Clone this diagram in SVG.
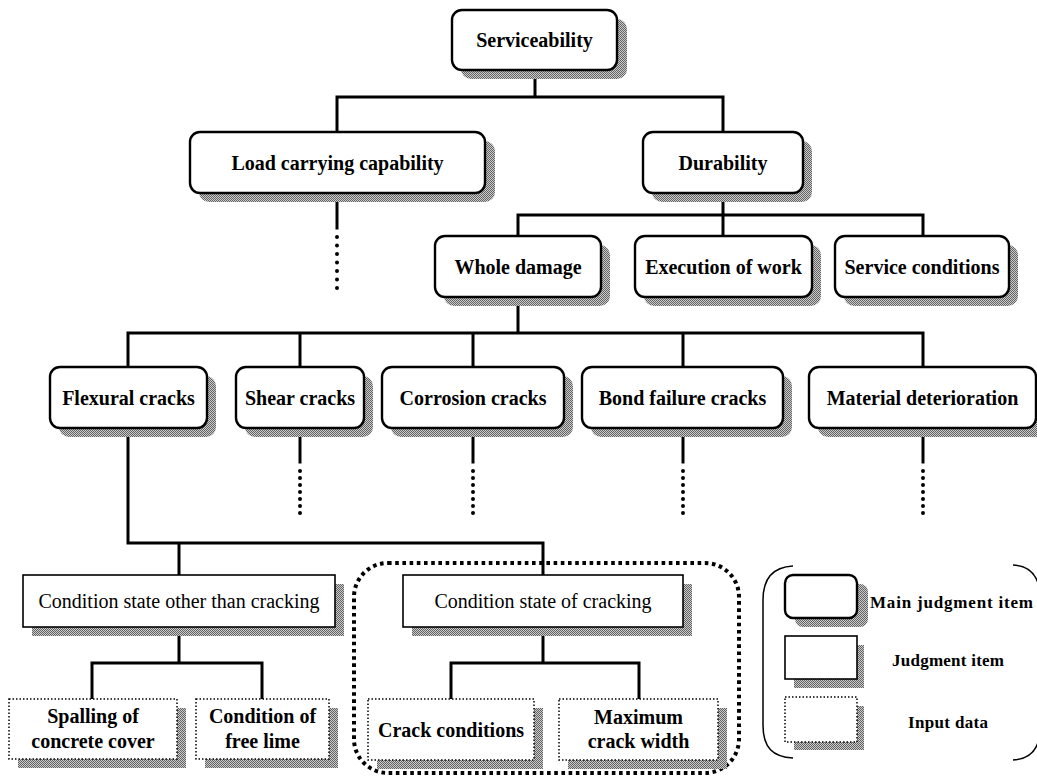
<svg xmlns="http://www.w3.org/2000/svg" width="1037" height="776" viewBox="0 0 1037 776">
  <defs>
    <!-- dithered grey used for drop shadows -->
    <pattern id="dither" width="2" height="2" patternUnits="userSpaceOnUse">
      <rect width="2" height="2" fill="#cccccc"/>
      <rect x="0" y="0" width="1" height="1" fill="#626262"/>
      <rect x="1" y="1" width="1" height="1" fill="#626262"/>
    </pattern>
  </defs>
  <style>
    .shadow { fill: url(#dither); stroke: none; }
    .main { fill: #fff; stroke: #000; stroke-width: 2.4; }
    .judge { fill: #fff; stroke: #000; stroke-width: 1.6; }
    .input { fill: #fff; stroke: #000; stroke-width: 1.5; stroke-dasharray: 1.5 2; }
    .conn { fill: none; stroke: #000; stroke-width: 3; stroke-linecap: square; }
    .more { fill: none; stroke: #000; stroke-width: 4; stroke-linecap: round; }
    .group { fill: none; stroke: #000; stroke-width: 4; stroke-dasharray: 3.6 3.6; }
    .paren { fill: none; stroke: #000; stroke-width: 1.5; }
    text { font-family: "Liberation Serif", "Times New Roman", serif; font-size: 20px; fill: #000; text-anchor: middle; }
    .b { font-weight: bold; }
    .leg { font-size: 17px; font-weight: bold; }
  </style>
  <rect width="1037" height="776" fill="#fff"/>

  <!-- connectors -->
  <g id="connectors">
    <path class="conn" d="M535 70 V97 M337 97 H723 M337 97 V132 M723 97 V132"/>
    <path class="conn" d="M337 193 V228"/>
    <path class="more" d="M337 237 V289" stroke-dasharray="0 8.5"/>
    <path class="conn" d="M723 193 V236 M518 215 H923 M518 215 V236 M923 215 V236"/>
    <path class="conn" d="M518 297 V333 M128 333 H923 M128 333 V367 M300 333 V367 M473 333 V367 M683 333 V367 M923 333 V367"/>
    <path class="conn" d="M300 428 V462 M473 428 V462 M683 428 V462 M923 428 V462"/>
    <path class="more" d="M300 471 V514 M473 471 V514 M683 471 V514 M923 471 V514" stroke-dasharray="0 7"/>
    <path class="conn" d="M128 428 V543 H543 M179 543 V575 M543 543 V575"/>
    <path class="conn" d="M179 627 V663 M92 663 H262 M92 663 V699 M262 663 V699"/>
    <path class="conn" d="M543 627 V663 M451 663 H639 M451 663 V699 M639 663 V699"/>
  </g>

  <!-- grouping of the crack condition state -->
  <g id="crack-group">
    <rect class="group" x="354" y="563" width="385" height="210" rx="34" ry="34"/>
  </g>

  <g id="serviceability">
    <rect class="shadow" x="461" y="19" width="166" height="60" rx="10"/>
    <rect class="main" x="452" y="10" width="165" height="60" rx="10"/>
    <text class="b" x="534.5" y="47">Serviceability</text>
  </g>

  <g id="load-carrying">
    <rect class="shadow" x="199" y="141" width="296" height="61" rx="10"/>
    <rect class="main" x="190" y="132" width="295" height="61" rx="10"/>
    <text class="b" x="337.5" y="170">Load carrying capability</text>
  </g>

  <g id="durability">
    <rect class="shadow" x="652" y="141" width="160" height="61" rx="10"/>
    <rect class="main" x="643" y="132" width="160" height="61" rx="10"/>
    <text class="b" x="723" y="170">Durability</text>
  </g>

  <g id="whole-damage">
    <rect class="shadow" x="444" y="245" width="166" height="61" rx="10"/>
    <rect class="main" x="435" y="236" width="166" height="61" rx="10"/>
    <text class="b" x="518" y="274">Whole damage</text>
  </g>

  <g id="execution">
    <rect class="shadow" x="644" y="245" width="177" height="61" rx="10"/>
    <rect class="main" x="635" y="236" width="177" height="61" rx="10"/>
    <text class="b" x="723.5" y="274">Execution of work</text>
  </g>

  <g id="service-conditions">
    <rect class="shadow" x="844" y="245" width="174" height="61" rx="10"/>
    <rect class="main" x="835" y="236" width="174" height="61" rx="10"/>
    <text class="b" x="922" y="274">Service conditions</text>
  </g>

  <g id="flexural">
    <rect class="shadow" x="59" y="376" width="157" height="61" rx="10"/>
    <rect class="main" x="50" y="367" width="157" height="61" rx="10"/>
    <text class="b" x="128.5" y="405">Flexural cracks</text>
  </g>

  <g id="shear">
    <rect class="shadow" x="245" y="376" width="128" height="61" rx="10"/>
    <rect class="main" x="236" y="367" width="128" height="61" rx="10"/>
    <text class="b" x="300" y="405">Shear cracks</text>
  </g>

  <g id="corrosion">
    <rect class="shadow" x="391" y="376" width="182" height="61" rx="10"/>
    <rect class="main" x="382" y="367" width="182" height="61" rx="10"/>
    <text class="b" x="473" y="405">Corrosion cracks</text>
  </g>

  <g id="bond">
    <rect class="shadow" x="591" y="376" width="201" height="61" rx="10"/>
    <rect class="main" x="582" y="367" width="201" height="61" rx="10"/>
    <text class="b" x="682.5" y="405">Bond failure cracks</text>
  </g>

  <g id="material">
    <rect class="shadow" x="818" y="376" width="227" height="61" rx="10"/>
    <rect class="main" x="809" y="367" width="227" height="61" rx="10"/>
    <text class="b" x="922.5" y="405">Material deterioration</text>
  </g>

  <g id="state-other">
    <rect class="shadow" x="32" y="584" width="312" height="52"/>
    <rect class="judge" x="23" y="575" width="312" height="52"/>
    <text x="179" y="608">Condition state other than cracking</text>
  </g>

  <g id="state-cracking">
    <rect class="shadow" x="412" y="584" width="280" height="52"/>
    <rect class="judge" x="403" y="575" width="280" height="52"/>
    <text x="543" y="608">Condition state of cracking</text>
  </g>

  <g id="spalling">
    <rect class="shadow" x="18" y="708" width="168" height="60"/>
    <rect class="input" x="9" y="699" width="168" height="60"/>
    <text class="b" x="93" y="723">Spalling of</text>
    <text class="b" x="93" y="748">concrete cover</text>
  </g>

  <g id="free-lime">
    <rect class="shadow" x="205" y="708" width="133" height="60"/>
    <rect class="input" x="196" y="699" width="133" height="60"/>
    <text class="b" x="262.5" y="723">Condition of</text>
    <text class="b" x="262.5" y="748">free lime</text>
  </g>

  <g id="crack-conditions">
    <rect class="shadow" x="377" y="708" width="166" height="61"/>
    <rect class="input" x="368" y="699" width="166" height="61"/>
    <text class="b" x="451" y="737">Crack conditions</text>
  </g>

  <g id="max-width">
    <rect class="shadow" x="568" y="708" width="159" height="61"/>
    <rect class="input" x="559" y="699" width="159" height="61"/>
    <text class="b" x="638.5" y="724">Maximum</text>
    <text class="b" x="638.5" y="748">crack width</text>
  </g>

  <!-- legend -->
  <g id="legend">
    <path class="paren" d="M793 566 C773 567 763 578 763 600 V725 C763 748 773 757 793 758"/>
    <path class="paren" d="M1013 565 C1030 566 1040 576 1040 598 V728 C1040 750 1030 759 1013 760"/>
    <rect class="shadow" x="795" y="584" width="73" height="43" rx="8"/>
    <rect class="main" x="785" y="575" width="72" height="43" rx="8"/>
    <text class="leg" x="870" y="607.5" style="text-anchor:start" textLength="163" lengthAdjust="spacing">Main judgment item</text>
    <rect class="shadow" x="794" y="645" width="70" height="43"/>
    <rect class="judge" x="785" y="636" width="72" height="43"/>
    <text class="leg" x="948" y="666" textLength="112" lengthAdjust="spacing">Judgment item</text>
    <rect class="shadow" x="794" y="706" width="70" height="44"/>
    <rect class="input" x="785" y="697" width="72" height="45"/>
    <text class="leg" x="948" y="727.5" textLength="80" lengthAdjust="spacing">Input data</text>
  </g>
</svg>
